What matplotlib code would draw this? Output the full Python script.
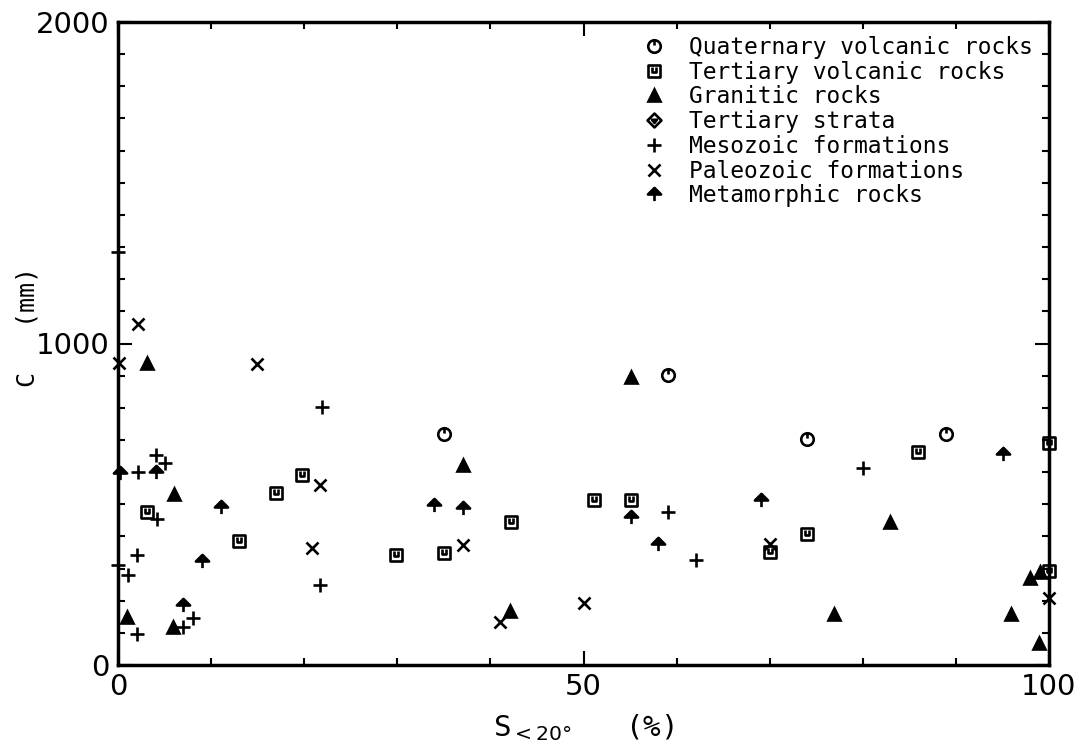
import matplotlib
matplotlib.use("Agg")
import matplotlib.pyplot as plt
from matplotlib.path import Path
from matplotlib.ticker import MultipleLocator, FixedLocator

# ---------------- data ----------------
quat_x = [35.0, 59.1, 74.0, 88.9]
quat_y = [718, 902, 703, 718]

tvol_x = [3.1, 13.0, 17.0, 19.8, 29.9, 35.0, 42.2, 51.1, 55.1, 70.0, 74.0, 85.9, 100.0, 100.0]
tvol_y = [476, 386, 535, 591, 342, 348, 445, 513, 513, 351, 408, 662, 691, 292]

gran_x = [3.1, 6.0, 1.0, 5.9, 37.1, 42.1, 55.1, 76.9, 82.9, 95.9, 98.0, 99.0, 98.9]
gran_y = [939, 532, 149, 118, 622, 168, 896, 159, 445, 159, 271, 289, 68]

tstr_x = []
tstr_y = []

meso_x = [0.0, 4.1, 5.0, 2.1, 4.2, 0.0, 1.1, 2.0, 2.0, 7.0, 8.1, 21.7, 21.9, 59.1, 62.1, 80.0]
meso_y = [1285, 653, 628, 600, 454, 311, 280, 342, 96, 118, 146, 249, 802, 476, 327, 613]

paleo_x = [2.1, 0.1, 14.9, 21.7, 20.8, 37.1, 41.0, 50.1, 70.0, 100.0]
paleo_y = [1061, 939, 936, 560, 364, 373, 134, 193, 376, 208]

meta_x = [11.1, 9.0, 7.0, 4.1, 0.2, 33.9, 37.1, 55.1, 58.0, 69.1, 95.1]
meta_y = [491, 323, 187, 600, 597, 498, 488, 460, 376, 513, 656]

labels = ["Quaternary volcanic rocks", "Tertiary volcanic rocks", "Granitic rocks",
          "Tertiary strata", "Mesozoic formations", "Paleozoic formations",
          "Metamorphic rocks"]

x_ticks = [0, 50, 100]
y_ticks = [0, 1000, 2000]

# ---------------- markers ----------------
def circle_tick():
    c = Path.unit_circle()
    verts = list(c.vertices) + [(0, 1), (0, 0.15)]
    codes = list(c.codes) + [Path.MOVETO, Path.LINETO]
    return Path(verts, codes)

def square_u():
    verts = [(-1, -1), (1, -1), (1, 1), (-1, 1), (-1, -1),
             (-0.4, 0.7), (-0.4, -0.25), (0.4, -0.25), (0.4, 0.7)]
    codes = [Path.MOVETO, Path.LINETO, Path.LINETO, Path.LINETO, Path.CLOSEPOLY,
             Path.MOVETO, Path.LINETO, Path.LINETO, Path.LINETO]
    return Path(verts, codes)

def diamond_mark():
    verts = [(0, -1), (1, 0), (0, 1), (-1, 0), (0, -1),
             (-0.35, 0.1), (0.35, 0.1), (0, -0.35), (-0.35, 0.1)]
    codes = [Path.MOVETO, Path.LINETO, Path.LINETO, Path.LINETO, Path.CLOSEPOLY,
             Path.MOVETO, Path.LINETO, Path.LINETO, Path.CLOSEPOLY]
    return Path(verts, codes)

def arrow_up():
    verts = [(-1, 0.0), (1, 0.0), (0, 1), (-1, 0.0),
             (0, 0.0), (0, -1)]
    codes = [Path.MOVETO, Path.LINETO, Path.LINETO, Path.CLOSEPOLY,
             Path.MOVETO, Path.LINETO]
    return Path(verts, codes)

plt.rcParams['font.family'] = ['DejaVu Sans']
plt.rcParams['mathtext.fontset'] = 'dejavusans'

fig = plt.figure(figsize=(10.77, 7.45), dpi=100)
ax = fig.add_axes([118/1077, 80/745, 931/1077, 643/745])

common = dict(linestyle='none', color='black', clip_on=False, zorder=5, markeredgewidth=1.9)
ax.plot(quat_x, quat_y, marker=circle_tick(), markersize=9, markerfacecolor='none', label=labels[0], **common)
ax.plot(tvol_x, tvol_y, marker=square_u(), markersize=8.5, markerfacecolor='none', label=labels[1], **common)
ax.plot(gran_x, gran_y, marker='^', markersize=8.5, markerfacecolor='black', label=labels[2], **common)
ax.plot(tstr_x, tstr_y, marker=diamond_mark(), markersize=10, markerfacecolor='none', label=labels[3], **common)
ax.plot(meso_x, meso_y, marker='+', markersize=10, label=labels[4], **common)
ax.plot(paleo_x, paleo_y, marker='x', markersize=8.5, label=labels[5], **common)
ax.plot(meta_x, meta_y, marker=arrow_up(), markersize=9.5, markerfacecolor='black', label=labels[6], **common)

ax.set_xlim(0, 100)
ax.set_ylim(0, 2000)
ax.xaxis.set_major_locator(FixedLocator(x_ticks))
ax.yaxis.set_major_locator(FixedLocator(y_ticks))
ax.xaxis.set_minor_locator(MultipleLocator(10))
ax.yaxis.set_minor_locator(MultipleLocator(100))
ax.tick_params(which='both', direction='in', top=True, right=True, width=1.5, colors='black')
ax.tick_params(which='major', length=10, labelsize=21, pad=6)
ax.tick_params(which='minor', length=5)
for s in ax.spines.values():
    s.set_linewidth(2.5)

ax.set_xlabel(r"S$_{<20°}$   (%)", fontsize=21, family='DejaVu Sans Mono', labelpad=8)
ax.set_ylabel("C   (mm)", fontsize=18, family='DejaVu Sans Mono')
ax.yaxis.set_label_coords((39-118)/931, (665-327)/643)

leg = ax.legend(loc='upper left', bbox_to_anchor=((643-118)/931, (665-36)/643),
                frameon=False, prop={'family': 'DejaVu Sans Mono', 'size': 16.5},
                handlelength=1.0, handletextpad=1.0, labelspacing=0.075, borderpad=0,
                borderaxespad=0)

fig.savefig("out.png", dpi=100)
